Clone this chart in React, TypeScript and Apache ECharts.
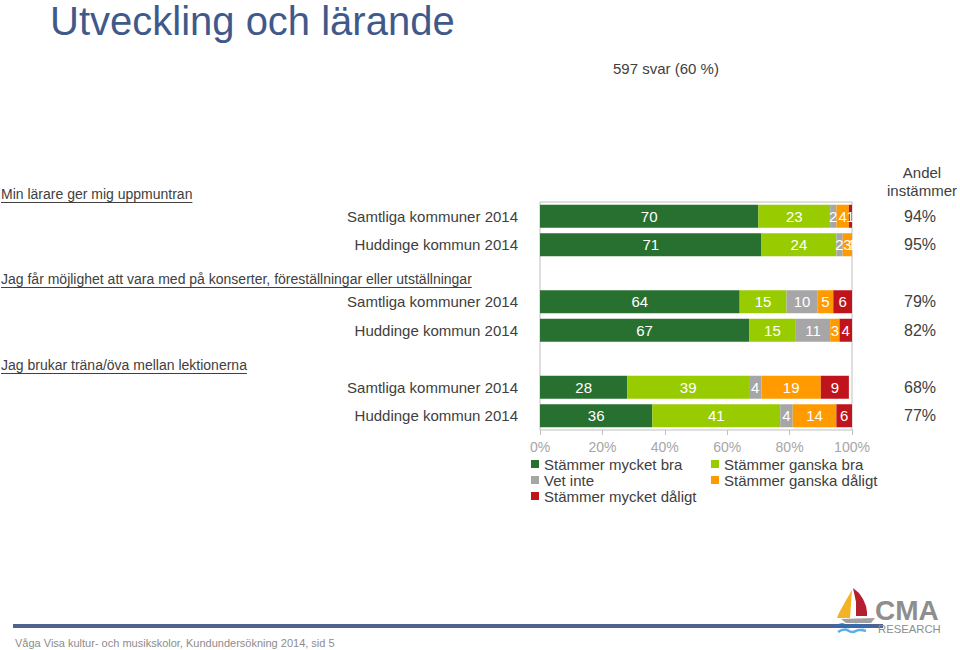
import React, { useEffect, useRef } from 'react';
import * as echarts from 'echarts';

const FONT = '"Liberation Sans", Arial, sans-serif';

// rows of the chart (empty rows separate the three questions)
const rowLabels = [
  'Samtliga kommuner 2014',
  'Huddinge kommun 2014',
  '',
  'Samtliga kommuner 2014',
  'Huddinge kommun 2014',
  '',
  'Samtliga kommuner 2014',
  'Huddinge kommun 2014',
];
const rowKeys = ['r0', 'r1', 'r2', 'r3', 'r4', 'r5', 'r6', 'r7'];

const questions = [
  'Min lärare ger mig uppmuntran',
  'Jag får möjlighet att vara med på konserter, föreställningar eller utställningar',
  'Jag brukar träna/öva mellan lektionerna',
];

const seriesNames = [
  'Stämmer mycket bra',
  'Stämmer ganska bra',
  'Vet inte',
  'Stämmer ganska dåligt',
  'Stämmer mycket dåligt',
];
const seriesColors = ['#287030', '#99CC00', '#A6A6A6', '#FF9A00', '#C0141C'];

const mycketBra = [70, 71, null, 64, 67, null, 28, 36];
const ganskaBra = [23, 24, null, 15, 15, null, 39, 41];
const vetInte = [2, 2, null, 10, 11, null, 4, 4];
const ganskaDaligt = [4, 3, null, 5, 3, null, 19, 14];
const mycketDaligt = [1, 1, null, 6, 4, null, 9, 6];

const andelInstammer = [94, 95, null, 79, 82, null, 68, 77];

const xTicks = [0, 20, 40, 60, 80, 100];

const seriesValues = [mycketBra, ganskaBra, vetInte, ganskaDaligt, mycketDaligt];

function textWidth(text: string, font: string): number {
  const c = document.createElement('canvas');
  const ctx = c.getContext('2d');
  if (!ctx) return text.length * 7;
  ctx.font = font;
  return ctx.measureText(text).width;
}

export default function App() {
  const ref = useRef<HTMLDivElement>(null);

  useEffect(() => {
    if (!ref.current) return;
    const chart = echarts.init(ref.current, undefined, { renderer: 'svg' });

    const labelFont = '14px "Liberation Sans"';
    const qY = [194, 279, 365];
    const questionGraphics: any[] = [];
    questions.forEach((q, i) => {
      const w = textWidth(q, labelFont);
      questionGraphics.push({
        type: 'text',
        style: {
          text: q,
          x: 1,
          y: qY[i],
          fill: '#404040',
          font: `14px ${FONT}`,
          verticalAlign: 'middle',
          align: 'left',
        },
      });
      questionGraphics.push({
        type: 'line',
        shape: { x1: 1, y1: qY[i] + 8.5, x2: 1 + w, y2: qY[i] + 8.5 },
        style: { stroke: '#404040', lineWidth: 1 },
      });
    });

    const option: any = {
      animation: false,
      backgroundColor: '#ffffff',
      textStyle: { fontFamily: FONT },
      grid: {
        left: 540,
        width: 312,
        top: 202,
        height: 228,
        show: true,
        borderColor: '#BFBFBF',
        borderWidth: 1,
        backgroundColor: 'transparent',
      },
      xAxis: {
        type: 'value',
        min: 0,
        max: 100,
        interval: 20,
        axisLine: { show: false },
        axisTick: { show: true, length: 5, lineStyle: { color: '#BFBFBF' } },
        splitLine: { show: false },
        axisLabel: {
          color: '#A6A6A6',
          fontSize: 14,
          fontFamily: FONT,
          margin: 10,
          formatter: (v: number) => (xTicks.includes(v) ? v + '%' : ''),
        },
      },
      yAxis: [
        {
          type: 'category',
          data: rowKeys,
          inverse: true,
          axisLine: { show: false },
          axisTick: { show: false },
          axisLabel: {
            color: '#404040',
            fontSize: 15,
            fontFamily: FONT,
            margin: 22,
            formatter: (_v: string, idx: number) => rowLabels[idx],
          },
        },
        {
          type: 'category',
          data: rowKeys,
          inverse: true,
          position: 'right',
          axisLine: { show: false },
          axisTick: { show: false },
          axisLabel: {
            color: '#404040',
            fontSize: 16,
            fontFamily: FONT,
            margin: 52,
            align: 'left',
            formatter: (_v: string, idx: number) =>
              andelInstammer[idx] == null ? '' : andelInstammer[idx] + '%',
          },
        },
      ],
      legend: [
        {
          orient: 'vertical',
          left: 531,
          top: 456,
          padding: 0,
          itemGap: 0,
          itemWidth: 8,
          itemHeight: 8,
          icon: 'rect',
          selectedMode: false,
          data: [seriesNames[0], seriesNames[2], seriesNames[4]],
          textStyle: { color: '#404040', fontSize: 15, fontFamily: FONT, lineHeight: 16 },
        },
        {
          orient: 'vertical',
          left: 711,
          top: 456,
          padding: 0,
          itemGap: 0,
          itemWidth: 8,
          itemHeight: 8,
          icon: 'rect',
          selectedMode: false,
          data: [seriesNames[1], seriesNames[3]],
          textStyle: { color: '#404040', fontSize: 15, fontFamily: FONT, lineHeight: 16 },
        },
      ],
      series: seriesNames.map((name, i) => ({
        name,
        type: 'bar',
        stack: 'total',
        barWidth: 23,
        itemStyle: { color: seriesColors[i] },
        label: {
          show: true,
          position: 'inside',
          color: '#ffffff',
          fontSize: 15,
          fontFamily: FONT,
        },
        data: seriesValues[i].map((v) => (v == null ? '-' : v)),
      })),
      graphic: [
        {
          type: 'text',
          style: {
            text: 'Utveckling och lärande',
            x: 50,
            y: 21,
            fill: '#3F5A8A',
            font: `40px ${FONT}`,
            verticalAlign: 'middle',
            align: 'left',
          },
        },
        {
          type: 'text',
          style: {
            text: '597 svar (60 %)',
            x: 613,
            y: 68,
            fill: '#404040',
            font: `15px ${FONT}`,
            verticalAlign: 'middle',
            align: 'left',
          },
        },
        {
          type: 'text',
          style: {
            text: 'Andel\ninstämmer',
            x: 922,
            y: 181,
            fill: '#404040',
            font: `15px ${FONT}`,
            lineHeight: 18,
            verticalAlign: 'middle',
            align: 'center',
          },
        },
        ...questionGraphics,
        {
          type: 'rect',
          shape: { x: 13, y: 624, width: 870, height: 4 },
          style: { fill: '#4F6290' },
        },
        {
          type: 'text',
          style: {
            text: 'Våga Visa kultur- och musikskolor, Kundundersökning 2014, sid 5',
            x: 15,
            y: 643,
            fill: '#8C8C8C',
            font: `11px ${FONT}`,
            verticalAlign: 'middle',
            align: 'left',
          },
        },
        // logo
        {
          type: 'polygon',
          shape: { points: [[852, 590], [845, 602], [839, 613], [837, 618], [850, 618]] },
          style: { fill: '#F4B323' },
        },
        {
          type: 'polygon',
          shape: {
            points: [[853, 588], [859, 593], [863, 599], [866, 606], [867, 612], [867, 616], [856, 616], [856, 602]],
          },
          style: { fill: '#B5202E' },
        },
        {
          type: 'polygon',
          shape: { points: [[841, 619], [875, 618], [871, 623], [846, 623]] },
          style: { fill: '#A0A0A0' },
        },
        {
          type: 'polyline',
          shape: { points: [[835, 627], [842, 624.5], [849, 627], [856, 625], [863, 627], [870, 625]], smooth: 0.5 },
          style: { stroke: '#2B6FB8', lineWidth: 2.5, fill: 'none' },
        },
        {
          type: 'polyline',
          shape: { points: [[838, 632], [845, 629.5], [852, 632], [859, 630], [866, 631]], smooth: 0.5 },
          style: { stroke: '#5FAEE3', lineWidth: 2.5, fill: 'none' },
        },
        {
          type: 'text',
          style: {
            text: 'CMA',
            x: 875,
            y: 610,
            fill: '#8E8E8E',
            font: `bold 28px ${FONT}`,
            verticalAlign: 'middle',
            align: 'left',
          },
        },
        {
          type: 'text',
          x: 878,
          y: 629,
          scaleX: 1.13,
          style: {
            text: 'RESEARCH',
            x: 0,
            y: 0,
            fill: '#8E8E8E',
            font: `10px ${FONT}`,
            verticalAlign: 'middle',
            align: 'left',
          },
        },
      ],
    };

    chart.setOption(option);
    return () => chart.dispose();
  }, []);

  return (
    <div
      ref={ref}
      style={{ position: 'fixed', left: 0, top: 0, width: 960, height: 650, background: '#fff' }}
    />
  );
}
